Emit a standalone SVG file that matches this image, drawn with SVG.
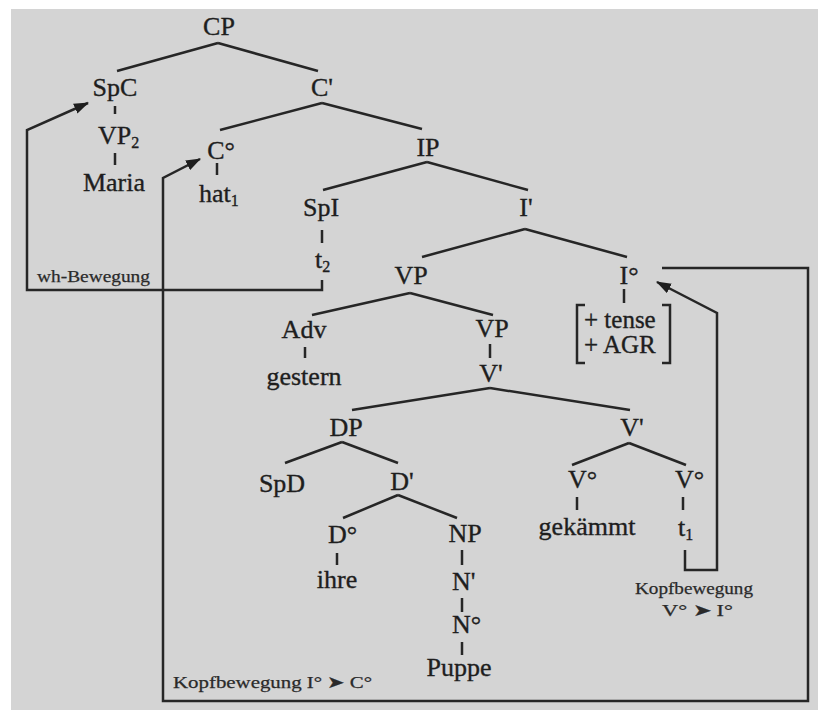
<svg xmlns="http://www.w3.org/2000/svg" width="818" height="710" viewBox="0 0 818 710">
<defs>
<style>
.n{font-family:"Liberation Serif","Times New Roman",serif;font-size:26px;fill:#1e1e1e;stroke:#1e1e1e;stroke-width:0.35;text-anchor:middle}
.s{text-anchor:start}
.f{font-size:25px}
.sub{font-size:16px}
.lab{font-family:"Liberation Serif","Times New Roman",serif;font-size:17px;fill:#2a2a2a;stroke:#2a2a2a;stroke-width:0.25}
.e{stroke:#262626;stroke-width:2.5;fill:none}
.t{stroke:#262626;stroke-width:2.5}
.mv{stroke:#262626;stroke-width:2.5;fill:none;marker-end:url(#ah)}
</style>
<marker id="ah" viewBox="0 0 14 10" refX="13" refY="5" markerWidth="15" markerHeight="11" markerUnits="userSpaceOnUse" orient="auto">
<path d="M0,0 L14,5 L0,10 z" fill="#1e1e1e"/>
</marker>
</defs>
<rect x="0" y="0" width="818" height="710" fill="#ffffff"/>
<rect x="11" y="9" width="807" height="701" fill="#d4d4d4"/>

<g id="connectors">
<line class="e" x1="218" y1="43" x2="117" y2="71"/>
<line class="e" x1="218" y1="43" x2="318" y2="71"/>
<line class="e" x1="322" y1="103" x2="220" y2="130"/>
<line class="e" x1="322" y1="103" x2="422" y2="129"/>
<line class="e" x1="427" y1="162" x2="323" y2="190"/>
<line class="e" x1="427" y1="162" x2="528" y2="190"/>
<line class="e" x1="525" y1="229" x2="422" y2="257"/>
<line class="e" x1="525" y1="229" x2="627" y2="257"/>
<line class="e" x1="410" y1="293" x2="312" y2="315"/>
<line class="e" x1="410" y1="293" x2="493" y2="315"/>
<line class="e" x1="490" y1="388" x2="352" y2="410"/>
<line class="e" x1="490" y1="388" x2="630" y2="410"/>
<line class="e" x1="342" y1="442" x2="285" y2="463"/>
<line class="e" x1="342" y1="442" x2="398" y2="463"/>
<line class="e" x1="629" y1="443" x2="572" y2="465"/>
<line class="e" x1="629" y1="443" x2="686" y2="465"/>
<line class="e" x1="398" y1="495" x2="343" y2="518"/>
<line class="e" x1="398" y1="495" x2="457" y2="518"/>
<line class="t" x1="115" y1="106" x2="115" y2="114"/>
<line class="t" x1="115" y1="153" x2="115" y2="165"/>
<line class="t" x1="217" y1="163" x2="217" y2="175"/>
<line class="t" x1="322" y1="230" x2="322" y2="243"/>
<line class="t" x1="624" y1="289" x2="624" y2="303"/>
<line class="t" x1="305" y1="347" x2="305" y2="358"/>
<line class="t" x1="490" y1="344" x2="490" y2="358"/>
<line class="t" x1="577" y1="497" x2="577" y2="510"/>
<line class="t" x1="683" y1="497" x2="683" y2="510"/>
<line class="t" x1="337" y1="553" x2="337" y2="565"/>
<line class="t" x1="462" y1="550" x2="462" y2="565"/>
<line class="t" x1="462" y1="598" x2="462" y2="612"/>
<line class="t" x1="462" y1="642" x2="462" y2="655"/>
<path class="mv" d="M322,280 V290 H27 V130 L88,103"/>
<path class="mv" d="M662,268 H808 V701 H163 V178 L200,159"/>
<path class="mv" d="M685,550 V570 H717 V313 L657,282"/>
</g>

<g id="CP"><text class="n" x="219" y="35">CP</text></g>
<g id="SpC"><text class="n" x="115" y="96">SpC</text></g>
<g id="VP2"><text class="n s" x="98" y="144">VP<tspan class="sub" dy="4">2</tspan></text></g>
<g id="Maria"><text class="n" x="114" y="191">Maria</text></g>
<g id="Cbar"><text class="n" x="322" y="96">C'</text></g>
<g id="C0"><text class="n" x="221" y="159">C°</text></g>
<g id="hat1"><text class="n s" x="199" y="202">hat<tspan class="sub" dy="4">1</tspan></text></g>
<g id="IP"><text class="n" x="428" y="156">IP</text></g>
<g id="SpI"><text class="n" x="321" y="216">SpI</text></g>
<g id="t2"><text class="n s" x="315" y="268">t<tspan class="sub" dy="4">2</tspan></text></g>
<g id="Ibar"><text class="n" x="526" y="216">I'</text></g>
<g id="VP"><text class="n" x="411" y="284">VP</text></g>
<g id="I0"><text class="n" x="629" y="284">I°</text></g>
<g id="features">
<path class="e" d="M585,305 H577 V363 H585 M662,305 H670 V363 H662"/>
<text class="n s f" x="584" y="328">+ tense</text>
<text class="n s f" x="584" y="353">+ AGR</text>
</g>
<g id="Adv"><text class="n" x="304" y="338">Adv</text></g>
<g id="gestern"><text class="n" x="304" y="385">gestern</text></g>
<g id="VP-low"><text class="n" x="492" y="337">VP</text></g>
<g id="Vbar"><text class="n" x="491" y="382">V'</text></g>
<g id="DP"><text class="n" x="346" y="436">DP</text></g>
<g id="Vbar2"><text class="n" x="632" y="436">V'</text></g>
<g id="SpD"><text class="n" x="282" y="492">SpD</text></g>
<g id="Dbar"><text class="n" x="402" y="490">D'</text></g>
<g id="V0a"><text class="n s" x="568" y="488">V°</text></g>
<g id="V0b"><text class="n s" x="675" y="488">V°</text></g>
<g id="gekaemmt"><text class="n" x="587" y="535">gekämmt</text></g>
<g id="t1"><text class="n s" x="678" y="536">t<tspan class="sub" dy="4">1</tspan></text></g>
<g id="D0"><text class="n s" x="328" y="543">D°</text></g>
<g id="ihre"><text class="n" x="337" y="588">ihre</text></g>
<g id="NP"><text class="n" x="465" y="542">NP</text></g>
<g id="Nbar"><text class="n s" x="452" y="590">N'</text></g>
<g id="N0"><text class="n s" x="452" y="633">N°</text></g>
<g id="Puppe"><text class="n" x="459" y="676">Puppe</text></g>

<g id="labels">
<text class="lab" x="37" y="282" textLength="113" lengthAdjust="spacingAndGlyphs">wh-Bewegung</text>
<text class="lab" x="173" y="688" textLength="199" lengthAdjust="spacingAndGlyphs">Kopfbewegung I° ➤ C°</text>
<text class="lab" x="635" y="594" textLength="118" lengthAdjust="spacingAndGlyphs">Kopfbewegung</text>
<text class="lab" x="662" y="616" textLength="71" lengthAdjust="spacingAndGlyphs">V° ➤ I°</text>
</g>
</svg>
